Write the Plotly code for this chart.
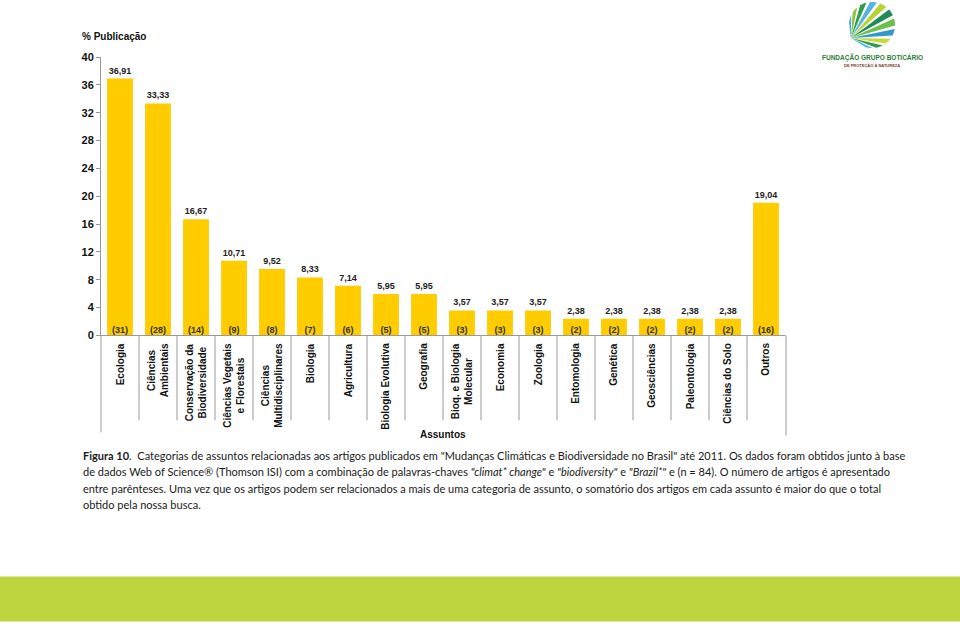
import math
import plotly.graph_objects as go

# ---------------- data ----------------
categories = ["Ecologia", "Ciências Ambientais", "Conservação da Biodiversidade",
              "Ciências Vegetais e Florestais", "Ciências Multidisciplinares", "Biologia",
              "Agricultura", "Biologia Evolutiva", "Geografia", "Bioq. e Biologia Molecular",
              "Economia", "Zoologia", "Entomologia", "Genética", "Geosciências",
              "Paleontologia", "Ciências do Solo", "Outros"]
tick_labels = ["Ecologia", "Ciências<br>Ambientais", "Conservação da<br>Biodiversidade",
               "Ciências Vegetais<br>e Florestais", "Ciências<br>Multidisciplinares", "Biologia",
               "Agricultura", "Biologia Evolutiva", "Geografia", "Bioq. e Biologia<br>Molecular",
               "Economia", "Zoologia", "Entomologia", "Genética", "Geosciências",
               "Paleontologia", "Ciências do Solo", "Outros"]
percent = [36.91, 33.33, 16.67, 10.71, 9.52, 8.33, 7.14, 5.95, 5.95, 3.57, 3.57, 3.57,
           2.38, 2.38, 2.38, 2.38, 2.38, 19.04]
counts = [31, 28, 14, 9, 8, 7, 6, 5, 5, 3, 3, 3, 2, 2, 2, 2, 2, 16]
y_ticks = [0, 4, 8, 12, 16, 20, 24, 28, 32, 36, 40]

W, H = 960, 631
def px(x):
    return x / W
def py(y):
    # layout position compensated for the observed vertical placement of the page
    return 1 - ((y - 6) / 0.98) / H

AR = "Liberation Sans, Arial, sans-serif"
BAR = "#FFCC00"

fig = go.Figure()
fig.add_trace(go.Bar(
    x=categories, y=percent, marker=dict(color=BAR, line=dict(width=0)),
    texttemplate="%{y:.2f}", textposition="outside", cliponaxis=False,
    textfont=dict(family=AR, size=9, color="#222", weight="bold"),
    hoverinfo="skip", showlegend=False))
fig.add_trace(go.Scatter(
    x=categories, y=[0] * len(categories), mode="text",
    text=["(%d)" % c for c in counts], textposition="top center",
    textfont=dict(family=AR, size=9, color="#333", weight="bold"),
    cliponaxis=False, hoverinfo="skip", showlegend=False))

shapes = []
ax_bottom = py(335)
for i in range(len(categories) - 1):
    shapes.append(dict(type="line", xref="x", yref="paper", x0=i + 0.5, x1=i + 0.5,
                       y0=ax_bottom, y1=py(420), line=dict(color="#999", width=1)))
shapes.append(dict(type="line", xref="paper", yref="paper", x0=px(101), x1=px(101),
                   y0=ax_bottom, y1=py(432), line=dict(color="#999", width=1)))
shapes.append(dict(type="line", xref="paper", yref="paper", x0=px(786), x1=px(786),
                   y0=ax_bottom, y1=py(435), line=dict(color="#999", width=1)))

# bottom green band
shapes.append(dict(type="rect", xref="paper", yref="paper", x0=0, x1=1,
                   y0=py(621), y1=py(576), fillcolor="#BFD540", line=dict(width=0), layer="below"))

# logo: stripes fanning from lower-left inside a circle
cx, cy, r = 872, 25, 23
fx, fy = 851, 38
logo_cols = ["#2E8B57", "#3FA9D8", "#8CC63F", "#2E9E4A", "#55B4E0", "#B7D433",
             "#1F8A5A", "#6CC04A", "#3399CC", "#C5DA3A", "#2E9E4A", "#55B4E0"]
a_start, a_end = 200, -115
n = len(logo_cols)
step = (a_start - a_end) / n
for k, col in enumerate(logo_cols):
    a0 = a_start - k * step
    a1 = a0 - step * 0.66
    pts = [(fx, fy)]
    for t in range(7):
        a = math.radians(a0 + (a1 - a0) * t / 6)
        pts.append((cx + r * math.cos(a), cy - r * math.sin(a)))
    path = "M " + " L ".join("%.5f,%.5f" % (px(x), py(y)) for x, y in pts) + " Z"
    shapes.append(dict(type="path", xref="paper", yref="paper", path=path,
                       fillcolor=col, line=dict(width=0)))

annotations = []
for cat, lab in zip(categories, tick_labels):
    annotations.append(dict(x=cat, xref="x", y=py(341), yref="paper", text=lab,
                            textangle=-90, xanchor="center", yanchor="top", align="center",
                            showarrow=False, font=dict(family=AR, size=10, color="#111", weight="bold")))
annotations.append(dict(x=px(80), y=py(36), xref="paper", yref="paper", text="% Publicação",
                        xanchor="left", yanchor="middle", showarrow=False,
                        font=dict(family=AR, size=10, color="#111", weight="bold")))
annotations.append(dict(x=px(443), y=py(434), xref="paper", yref="paper", text="Assuntos",
                        xanchor="center", yanchor="middle", showarrow=False,
                        font=dict(family=AR, size=10, color="#111", weight="bold")))

CAP = "Lato, Carlito, Calibri, sans-serif"
cap_lines = [
    '<b>Figura 10</b>.  Categorias de assuntos relacionadas aos artigos publicados em "Mudanças Climáticas e Biodiversidade no Brasil" até 2011. Os dados foram obtidos junto à base',
    'de dados Web of Science® (Thomson ISI) com a combinação de palavras-chaves <i>"climat* change"</i> e <i>"biodiversity"</i> e <i>"Brazil*"</i> e (n = 84). O número de artigos é apresentado',
    'entre parênteses. Uma vez que os artigos podem ser relacionados a mais de uma categoria de assunto, o somatório dos artigos em cada assunto é maior do que o total',
    'obtido pela nossa busca.',
]
for ln, yy in zip(cap_lines, [455, 471, 488, 504]):
    annotations.append(dict(x=px(81), y=py(yy), xref="paper", yref="paper", text=ln,
                            xanchor="left", yanchor="middle", showarrow=False,
                            font=dict(family=CAP, size=11, color="#1a1a1a")))

annotations.append(dict(x=px(872), y=py(57), xref="paper", yref="paper",
                        text="FUNDAÇÃO GRUPO BOTICÁRIO", xanchor="center", yanchor="middle",
                        showarrow=False,
                        font=dict(family=AR, size=6.5, color="#2E7D3A", weight="bold")))
annotations.append(dict(x=px(872), y=py(65), xref="paper", yref="paper",
                        text="DE PROTEÇÃO À NATUREZA", xanchor="center", yanchor="middle",
                        showarrow=False,
                        font=dict(family=AR, size=4, color="#7a3b2e", weight="bold")))

fig.update_layout(
    width=W, height=H, margin=dict(l=0, r=0, t=0, b=0),
    paper_bgcolor="white", plot_bgcolor="white",
    separators=",.", bargap=0.32, showlegend=False,
    xaxis=dict(domain=[px(101), px(785)], type="category", showticklabels=False,
               showline=True, linecolor="#999", linewidth=1, showgrid=False, ticks="",
               range=[-0.5, len(categories) - 0.5], fixedrange=True),
    yaxis=dict(domain=[py(335), py(57)], range=[0, 40], tickvals=y_ticks,
               showline=True, linecolor="#999", linewidth=1, showgrid=False,
               ticks="outside", ticklen=4, tickcolor="#999", zeroline=False,
               tickfont=dict(family=AR, size=11, color="#111", weight="bold"), fixedrange=True),
    shapes=shapes, annotations=annotations,
)

fig.write_html(
    "out.html",
    config={"displayModeBar": False, "staticPlot": True},
    post_script=(
        "document.documentElement.style.margin='0';"
        "document.documentElement.style.overflow='hidden';"
        "document.body.style.margin='0';document.body.style.overflow='hidden';"
        "var d=document.getElementById('{plot_id}');"
        "d.style.position='fixed';d.style.top='0px';d.style.left='0px';"
    ),
)
